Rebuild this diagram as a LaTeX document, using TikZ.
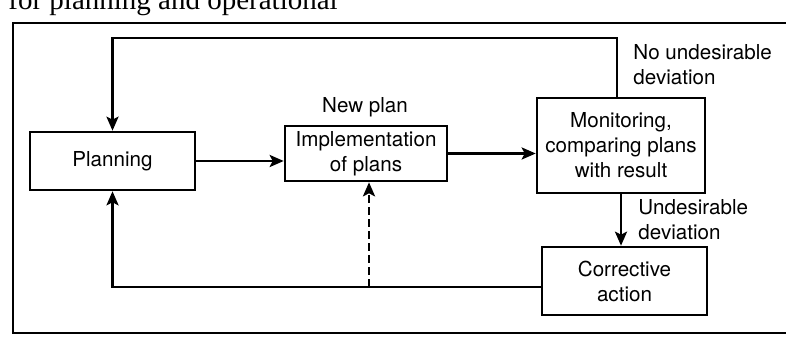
\documentclass[tikz,border=0pt]{standalone}
\usepackage{fontspec}
\setmainfont{TeX Gyre Heros}
\newfontfamily\bookfont{Liberation Serif}
\usepackage{tikz}
\usetikzlibrary{arrows.meta}
\usetikzlibrary{calc}
\tikzstyle{block}=[draw, line width=1.3pt, align=center, inner sep=0pt]
\tikzstyle{arr}=[line width=1.3pt, -{Stealth[length=7pt,width=6pt,inset=1.5pt]}]
\tikzstyle{lbl}=[align=left, inner sep=0pt]
\tikzstyle{loop}=[x=0.5pt, y=-0.5pt, font=\fontsize{10.3}{12.5}\selectfont]

\begin{document}
\begin{tikzpicture}[loop]
	\useasboundingbox (0,0) rectangle (786,346);
	\clip (0,0) rectangle (786,346);
	% running text of the page, cut at the top
	\node[anchor=base west, inner sep=0pt, font=\bookfont\fontsize{14.5}{17}\selectfont] (bookline) at (8,10) {for planning and operational};
	% frame
	\draw[line width=0.9pt] (800,23) -- (13,23) -- (13,333) -- (800,333);
	% the four stages
	\node[block, minimum width=82.5pt, minimum height=29pt] (plan) at (112.5,161) {Planning};
	\node[block, minimum width=81pt, minimum height=27.5pt] (impl) at (366,153.5) {Implementation\\of plans};
	\node[block, minimum width=84pt, minimum height=47.5pt] (mon) at (621,145.5) {Monitoring,\\comparing plans\\with result};
	\node[block, minimum width=82.5pt, minimum height=34pt] (corr) at (624.5,281) {Corrective\\action};
	% labels
	\node (newplan) at (365,107) {New plan};
	\node[lbl, anchor=west] (nodev) at (633,64.5) {No undesirable\\deviation};
	\node[lbl, anchor=west] (undev) at (638,219.5) {Undesirable\\deviation};
	% forward path
	\draw[arr] (plan.east) -- (plan.east -| impl.west);
	\draw[arr] (impl.east) -- (impl.east -| mon.west);
	\draw[arr] (mon.south) -- (mon.south |- corr.north);
	% loop back when nothing went wrong
	\coordinate (ftop) at (0,38);
	\draw[arr] ([xshift=-2pt]mon.north) |- (ftop -| plan.north) -- (plan.north);
	% correction back to planning
	\draw[arr] ([yshift=-3pt]corr.west) -| (plan.south);
	\coordinate (np) at (369,287);
	\draw[arr, dashed, dash pattern=on 4pt off 2pt] (np) -- (np |- impl.south);
\end{tikzpicture}
\end{document}
